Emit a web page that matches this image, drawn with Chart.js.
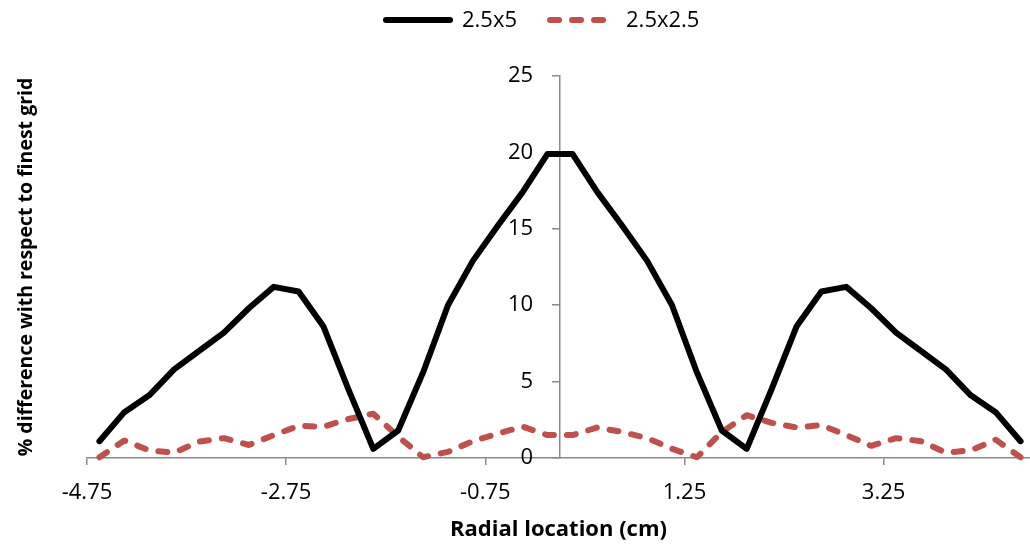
<!DOCTYPE html>
<html>
<head>
<meta charset="utf-8">
<script src="https://cdn.jsdelivr.net/npm/chart.js@4/dist/chart.umd.min.js"></script>
<style>
html,body{margin:0;padding:0;background:#fff}
#wrap{width:1030px;height:547px}
</style>
</head>
<body>
<div id="wrap"><canvas id="c"></canvas></div>
<script>
const radial=[-4.625,-4.375,-4.125,-3.875,-3.625,-3.375,-3.125,-2.875,-2.625,-2.375,-2.125,-1.875,-1.625,-1.375,-1.125,-0.875,-0.625,-0.375,-0.125,
    0.125,0.375,0.625,0.875,1.125,1.375,1.625,1.875,2.125,2.375,2.625,2.875,3.125,3.375,3.625,3.875,4.125,4.375,4.625];
const grid25x5=[1.1,3.0,4.1,5.8,7.0,8.2,9.8,11.2,10.9,8.6,4.5,0.6,1.8,5.6,10.0,12.9,15.2,17.4,19.9,
    19.9,17.4,15.2,12.9,10.0,5.6,1.8,0.6,4.5,8.6,10.9,11.2,9.8,8.2,7.0,5.8,4.1,3.0,1.1];
const grid25x25=[0.05,1.15,0.5,0.35,1.07,1.3,0.85,1.5,2.1,2.05,2.55,2.9,1.4,0.05,0.4,1.1,1.6,2.05,1.5,
    1.5,2.0,1.7,1.3,0.6,0.05,1.7,2.8,2.3,2.0,2.15,1.5,0.8,1.3,1.1,0.35,0.5,1.2,0.05];
const seriesNames=["2.5x5","2.5x2.5"];
const xTicks=[-4.75,-2.75,-0.75,1.25,3.25];
const yTicks=[0,5,10,15,20,25];

const axisGrey="#898989";
Chart.defaults.font.family="'Open Sans', 'Noto Sans', sans-serif";
Chart.defaults.font.size=22;
Chart.defaults.color="#000";

function pts(ys){return radial.map((x,i)=>({x:x,y:ys[i]}))}

// legend drawn by hand so it sits where excel put it
const lineLegend={
    id:"lineLegend",
    afterDraw(chart){
        const ctx=chart.ctx;
        let x=386;const y=20;
        ctx.save();
        ctx.font="22px 'Open Sans', 'Noto Sans', sans-serif";
        ctx.textBaseline="middle";
        chart.data.datasets.forEach(ds=>{
            ctx.beginPath();
            ctx.strokeStyle=ds.borderColor;
            ctx.lineWidth=ds.borderWidth;
            ctx.lineCap="round";
            ctx.setLineDash(ds.borderDash||[]);
            ctx.moveTo(x,y);ctx.lineTo(x+64,y);ctx.stroke();
            ctx.setLineDash([]);
            ctx.fillStyle="#000";
            ctx.fillText(ds.label,x+76,y+1);
            x=x+76+ctx.measureText(ds.label).width+33;
        });
        ctx.restore();
    }
};

new Chart(document.getElementById("c"),{
    type:"line",
    data:{datasets:[
        {label:seriesNames[0],data:pts(grid25x5),borderColor:"#000",borderWidth:6,borderJoinStyle:"round",borderCapStyle:"round",pointRadius:0,tension:0,clip:false},
        {label:seriesNames[1],data:pts(grid25x25),borderColor:"#c0504d",borderWidth:6,borderDash:[9,13],borderJoinStyle:"round",borderCapStyle:"round",pointRadius:0,tension:0,clip:false}
    ]},
    options:{
        responsive:true,maintainAspectRatio:false,animation:false,
        layout:{padding:{top:76,right:0,left:0,bottom:0}},
        plugins:{legend:{display:false},tooltip:{enabled:false}},
        scales:{
            x:{type:"linear",position:"bottom",min:-4.75,max:4.72,
                afterBuildTicks:s=>{s.ticks=xTicks.map(v=>({value:v}))},
                afterFit:s=>{s.height=89},
                ticks:{padding:15,callback:v=>String(v),maxRotation:0},
                grid:{drawOnChartArea:false,color:axisGrey,lineWidth:1.5,tickLength:7},
                border:{color:axisGrey,width:1.5},
                title:{display:true,text:"Radial location (cm)",font:{weight:"bold",size:22},padding:{top:4,bottom:4}}
            },
            y:{type:"linear",position:{x:0},min:0,max:25,
                afterBuildTicks:s=>{s.ticks=yTicks.map(v=>({value:v}))},
                ticks:{display:false},
                grid:{drawOnChartArea:false,color:axisGrey,lineWidth:1.5,tickLength:7},
                border:{color:axisGrey,width:1.5}
            },
            // second copy of the value axis, only for the tick labels, set back from the line
            yl:{type:"linear",position:{x:-0.27},min:0,max:25,
                afterBuildTicks:s=>{s.ticks=yTicks.map(v=>({value:v}))},
                grid:{display:false,drawTicks:false},
                border:{display:false},
                ticks:{padding:0}
            },
            yt:{type:"linear",position:"left",display:true,
                afterFit:s=>{s.width=87},
                ticks:{display:false},grid:{display:false},border:{display:false},
                title:{display:true,text:"% difference with respect to finest grid",font:{weight:"bold",size:19.5},padding:{top:15,bottom:0}}
            }
        }
    },
    plugins:[lineLegend]
});
</script>
</body>
</html>
